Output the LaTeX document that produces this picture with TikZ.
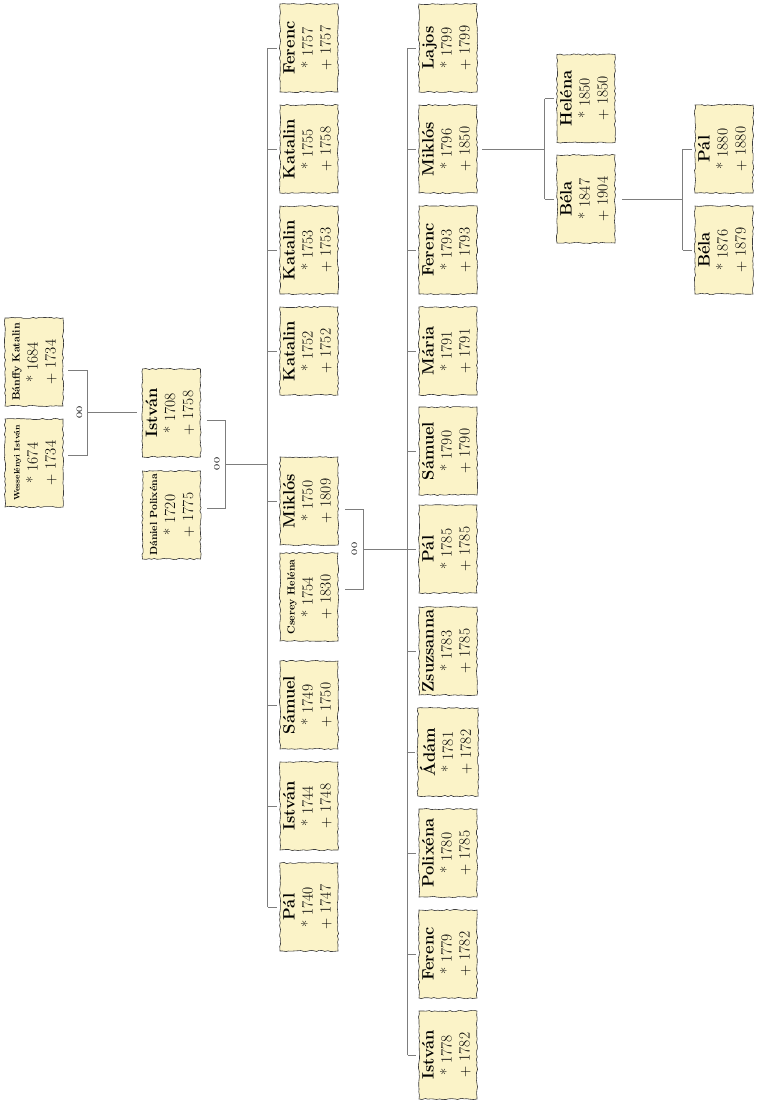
\documentclass[tikz,border=0pt]{standalone}
\usepackage{tikz}
\usetikzlibrary{decorations.pathmorphing,calc}
\usepackage{xcolor}
\definecolor{parch}{RGB}{251,243,200}
\definecolor{rim}{RGB}{60,60,60}
\definecolor{lnk}{RGB}{125,125,125}
\newcommand{\pr}[4][16.5]{\begin{tabular}{@{}c@{}}{\bfseries\fontsize{#1}{18}\selectfont #2}\\{*}\ #3\\+\ #4\end{tabular}}

\begin{document}
\begin{tikzpicture}[x=1pt,y=-1pt,
  pbox/.style={rotate=90,draw=rim,fill=parch,line width=0.6pt,
    minimum width=88pt,minimum height=58pt,inner sep=2pt,
    font=\fontsize{15.5}{18}\selectfont,
    decorate,decoration={random steps,segment length=3pt,amplitude=0.7pt}},
  edg/.style={lnk,line width=0.8pt},
  oo/.style={rotate=90,inner sep=0pt,font=\fontsize{12.5}{12.5}\selectfont}]
\useasboundingbox (0,0) rectangle (758,1106);
\node[pbox] (ban) at (34,362) {\pr[10.5]{Bánffy Katalin}{1684}{1734}};
\node[pbox] (wes) at (34,463) {\pr[8]{Wesselényi István}{1674}{1734}};
\node[pbox] (ist1) at (171.5,413) {\pr{István}{1708}{1758}};
\node[pbox] (dan1) at (171.5,515) {\pr[10.3]{Dániel Polixéna}{1720}{1775}};
\node[pbox] (fer2) at (309,48) {\pr{Ferenc}{1757}{1757}};
\node[pbox] (kat2a) at (309,149) {\pr{Katalin}{1755}{1758}};
\node[pbox] (kat2b) at (309,250) {\pr{Katalin}{1753}{1753}};
\node[pbox] (kat2c) at (309,351) {\pr{Katalin}{1752}{1752}};
\node[pbox] (mik2) at (309,501) {\pr{Miklós}{1750}{1809}};
\node[pbox] (cse2) at (309,597) {\pr[10.3]{Cserey Heléna}{1754}{1830}};
\node[pbox] (sam2) at (309,705) {\pr{Sámuel}{1749}{1750}};
\node[pbox] (ist2) at (309,806) {\pr{István}{1744}{1748}};
\node[pbox] (pal2) at (309,907) {\pr{Pál}{1740}{1747}};
\node[pbox] (laj3) at (448,48) {\pr{Lajos}{1799}{1799}};
\node[pbox] (mik3) at (448,149) {\pr{Miklós}{1796}{1850}};
\node[pbox] (fer3a) at (448,250) {\pr{Ferenc}{1793}{1793}};
\node[pbox] (mar3) at (448,351) {\pr{Mária}{1791}{1791}};
\node[pbox] (sam3) at (448,451) {\pr{Sámuel}{1790}{1790}};
\node[pbox] (pal3) at (448,549) {\pr{Pál}{1785}{1785}};
\node[pbox] (zsu3) at (448,651) {\pr{Zsuzsanna}{1783}{1785}};
\node[pbox] (ada3) at (448,752) {\pr{Ádám}{1781}{1782}};
\node[pbox] (pol3) at (448,853) {\pr{Polixéna}{1780}{1785}};
\node[pbox] (fer3b) at (448,954) {\pr{Ferenc}{1779}{1782}};
\node[pbox] (ist3) at (448,1055) {\pr{István}{1778}{1782}};
\node[pbox] (hel4) at (586,98.5) {\pr{Heléna}{1850}{1850}};
\node[pbox] (bel4) at (586,199) {\pr{Béla}{1847}{1904}};
\node[pbox] (pal5) at (724,149) {\pr{Pál}{1880}{1880}};
\node[pbox] (bel5) at (724,250) {\pr{Béla}{1876}{1879}};
% couples
\coordinate (m0) at ($(ban.south)!.5!(wes.south)+(24,0)$);
\draw[edg] ([xshift=5pt,yshift=-8pt]ban.south) -| (m0) |- ([xshift=5pt,yshift=8pt]wes.south);
\node[oo] (oo0) at ([xshift=-8pt]m0) {oo};
\draw[edg] (m0) -- ([xshift=-5pt]m0 -| ist1.north);
\coordinate (m1) at ($(ist1.south)!.5!(dan1.south)+(25,0)$);
\draw[edg] ([xshift=6pt,yshift=-7pt]ist1.south) -| (m1) |- ([xshift=6pt,yshift=7pt]dan1.south);
\node[oo] (oo1) at ([xshift=-9pt]m1) {oo};
\coordinate (m2) at ($(mik2.south)!.5!(cse2.south)+(25,0)$);
\draw[edg] ([xshift=7pt,yshift=-8pt]mik2.south) -| (m2) |- ([xshift=7pt,yshift=8pt]cse2.south);
\node[oo] (oo2) at ([xshift=-9pt]m2) {oo};
% children
\coordinate (t2a) at ([xshift=-12pt]fer2.north);
\coordinate (t2b) at ([xshift=-12pt]pal2.north);
\draw[edg] (t2a) -- (t2b);
\draw[edg] (m1) -- (m1 -| t2a);
\foreach \n in {fer2,kat2a,kat2b,kat2c,mik2,sam2,ist2,pal2}
  \draw[edg] ([xshift=-12pt]\n.north) -- ([xshift=-3pt]\n.north);
\coordinate (t3a) at ([xshift=-11pt]laj3.north);
\coordinate (t3b) at ([xshift=-11pt]ist3.north);
\draw[edg] (t3a) -- (t3b);
\draw[edg] (m2) -- (m2 -| t3a);
\foreach \n in {laj3,mik3,fer3a,mar3,sam3,pal3,zsu3,ada3,pol3,fer3b,ist3}
  \draw[edg] ([xshift=-11pt]\n.north) -- ([xshift=-3pt]\n.north);
\coordinate (t4a) at ([xshift=-12pt]hel4.north);
\coordinate (t4b) at ([xshift=-12pt]bel4.north);
\draw[edg] (t4a) -- (t4b);
\draw[edg] ([xshift=5pt]mik3.south) -- (mik3.south -| t4a);
\foreach \n in {hel4,bel4}
  \draw[edg] ([xshift=-12pt]\n.north) -- ([xshift=-3pt]\n.north);
\coordinate (t5a) at ([xshift=-12pt]pal5.north);
\coordinate (t5b) at ([xshift=-12pt]bel5.north);
\draw[edg] (t5a) -- (t5b);
\draw[edg] ([xshift=7pt]bel4.south) -- (bel4.south -| t5a);
\foreach \n in {pal5,bel5}
  \draw[edg] ([xshift=-12pt]\n.north) -- ([xshift=-3pt]\n.north);
\end{tikzpicture}
\end{document}
